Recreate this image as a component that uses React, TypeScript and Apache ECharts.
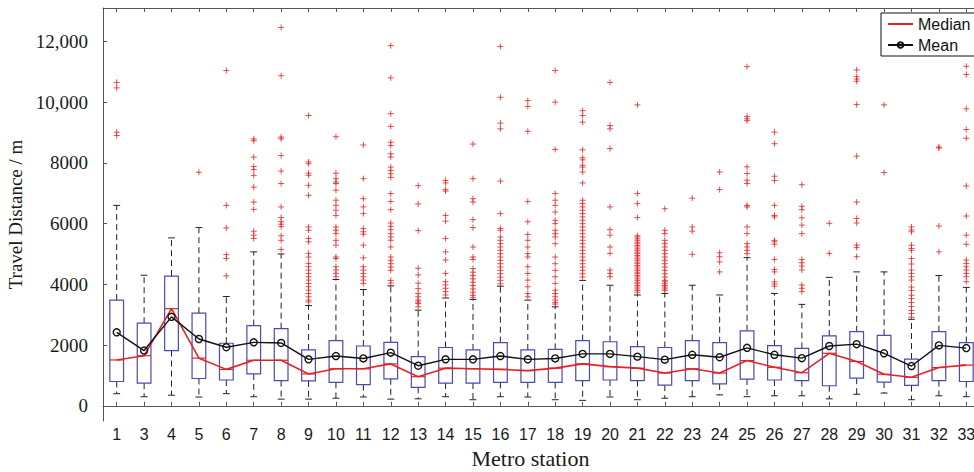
import React, { useEffect, useRef } from "react";
import * as echarts from "echarts";

const stations = ["1","3","4","5","6","7","8","9","10","11","12","13","14","15","16","17","18","19","20","21","22","23","24","25","26","27","28","29","30","31","32","33"];

const lowerWhisker = [400,300,350,290,400,300,220,220,250,290,220,230,300,200,300,290,200,180,290,200,250,300,360,300,330,330,230,380,420,200,330,300];
const q1 = [800,745,1820,900,850,1050,830,820,770,700,890,610,750,750,770,770,770,830,850,830,680,830,720,880,850,830,660,910,780,670,830,800];
const medians = [1510,1650,3200,1570,1200,1500,1500,1050,1220,1220,1380,960,1240,1220,1200,1160,1240,1380,1290,1240,1080,1220,1080,1490,1270,1090,1730,1460,1040,940,1260,1340];
const q3 = [3480,2720,4270,3050,2060,2640,2540,1840,2150,1970,2090,1620,1920,1840,2080,1840,1860,2150,2110,1950,1920,2150,2080,2470,1980,1890,2300,2440,2320,1540,2440,2080];
const upperWhisker = [6600,4300,5530,5870,3600,5070,5000,3300,4160,3830,3950,3150,3550,3500,3940,3480,3260,4130,3970,3650,3700,3970,3650,4880,3700,3340,4230,4410,4410,2850,4290,3900];
const means = [2420,1820,2930,2200,1930,2090,2070,1530,1640,1560,1750,1320,1530,1530,1640,1530,1560,1710,1710,1620,1520,1680,1600,1910,1680,1570,1970,2030,1730,1310,1990,1900];

const outliers: number[][] = [
  [10650,10470,9010,8900],
  [],
  [],
  [7690],
  [11040,6600,5860,4980,4850,4280],
  [8790,8730,8190,7880,7780,7590,7200,6710,6470,5750,5620,5510],
  [12460,10870,8850,8790,8240,7730,7320,6550,6200,6060,5980,5900,5600,5450,5150],
  [9560,8030,7970,7660,7590,7260,6930,5890,5780,5510,5400,5020,4900,4690,4580,4470,4360,4250,4140,4030,3920,3810,3700,3590,3480,3420],
  [8860,7660,7480,7370,7320,7100,6770,6600,6440,6270,5890,5780,5670,5450,5290,4900,4850,4580,4470,4360,4250],
  [8590,7480,6820,6550,6330,5840,5730,5650,5290,4870,4580,4470,4360,4250,4140,4030],
  [11860,10800,9620,9200,8680,8570,8300,8190,7860,7750,7640,7520,6990,6730,6460,6020,5910,5800,5670,5560,5450,5230,4900,4790,4680,4570,4460,4130,4040],
  [7250,6650,5770,4530,4310,4040,3860,3700,3590,3480,3420,3370,3260],
  [7420,7340,7120,7070,6270,6080,5510,5070,4800,4360,4090,3980,3870,3760,3650],
  [8620,7480,6820,6710,6130,5870,5230,4900,4820,4520,4400,4290,4180,4070,3960,3850,3740,3640,3560],
  [11830,10160,9310,9120,7400,6330,5840,5780,5560,5450,5340,5230,5120,5010,4900,4790,4680,4570,4460,4350,4240,4130,4020],
  [10050,9860,9040,6730,6060,5640,5450,5230,5010,4900,4580,4360,4140,3920,3700,3590],
  [11040,10000,8440,6990,6770,6600,6380,6110,6000,5780,5670,5560,5340,4900,4680,4460,4250,4030,3810,3700,3590,3480,3400,3350],
  [9720,9560,9340,8430,8170,8100,7920,7860,7700,7340,6770,6660,6550,6440,6330,6220,6110,6000,5890,5780,5670,5560,5450,5340,5230,5120,5010,4900,4790,4680,4570,4460,4350,4240],
  [10650,9230,9120,8470,6550,5800,5620,5230,5020,4470,4360,4250],
  [9910,6990,6660,6200,5600,5560,5500,5450,5390,5340,5280,5230,5170,5120,5060,5010,4950,4900,4840,4790,4730,4680,4620,4570,4510,4460,4400,4350,4290,4240,4180,4130,4070,4020,3960,3910,3850,3800,3740],
  [6490,5780,5670,5450,5340,5230,5120,5010,4900,4790,4680,4570,4460,4350,4240,4130,4080,4020,3960,3910,3850,3800],
  [6840,5890,5750,4990],
  [7700,7120,5040,4910,4740,4410],
  [11170,9530,9450,9390,7870,7650,7430,7320,6600,6550,5890,5670,5340,5230,5120,5010],
  [9010,8630,7560,7420,6600,6270,6220,5450,5400,5320,4820,4490,4410,4080,4010,3940],
  [7280,6570,6460,6190,5950,5670,4820,4710,4600,4470,3980,3870,3760],
  [6010,5020],
  [11060,10840,10760,10690,9920,8220,6710,6170,6020,5290,5210,4910],
  [9910,7680],
  [5890,5790,5730,5290,5180,5120,4850,4670,4470,4360,4250,4140,3910,3800,3640,3530,3400,3270,3140,3040,2920],
  [8520,8490,5920,5070],
  [11180,10910,9780,9100,8810,7240,6250,5620,5320,4800,4690,4580,4470,4360,4250,4090],
];

const yTicks = [0, 2000, 4000, 6000, 8000, 10000, 12000];

const SERIF = '"Liberation Serif", "Times New Roman", serif';
const SANS = '"Liberation Sans", Arial, sans-serif';

export default function App() {
  const ref = useRef<HTMLDivElement>(null);
  useEffect(() => {
    if (!ref.current) return;
    const chart = echarts.init(ref.current, null, { renderer: "svg" });
    const boxData = stations.map((_, i) => [i, lowerWhisker[i], q1[i], medians[i], q3[i], upperWhisker[i]]);
    const outlierData: number[][] = [];
    outliers.forEach((arr, i) => arr.forEach((v) => outlierData.push([i, v])));

    const axisColor = "#555";
    chart.setOption({
      animation: false,
      backgroundColor: "#fff",
      grid: { left: 103, top: 8, width: 877, height: 413, show: false, outerBoundsMode: "none" },
      legend: {
        data: [
          { name: "Median", itemStyle: { opacity: 0 } },
          { name: "Mean" },
        ],
        orient: "vertical",
        left: 881,
        top: 13,
        z: 20,
        backgroundColor: "#fff",
        borderColor: "#111",
        borderWidth: 1,
        borderRadius: 0,
        padding: [3, 12, 3, 6],
        itemGap: 5,
        itemWidth: 25,
        itemHeight: 7,
        textStyle: { fontFamily: SANS, fontSize: 16, color: "#111" },
      },
      xAxis: [
        {
          type: "category",
          data: stations,
          position: "bottom",
          boundaryGap: true,
          axisLine: { show: true, lineStyle: { color: axisColor, width: 1 } },
          axisTick: { show: true, inside: true, alignWithLabel: true, length: 4, lineStyle: { color: axisColor } },
          axisLabel: { interval: 0, margin: 5, fontFamily: SANS, fontSize: 16, color: "#1a1a1a" },
          splitLine: { show: false },
          name: "Metro station",
          nameLocation: "middle",
          nameGap: 26,
          nameTextStyle: { fontFamily: SERIF, fontSize: 22, color: "#1a1a1a", padding: [0, 22, 0, 0] },
        },
        {
          type: "category",
          data: stations,
          position: "top",
          boundaryGap: true,
          axisLine: { show: true, lineStyle: { color: axisColor, width: 1 } },
          axisTick: { show: true, inside: true, alignWithLabel: true, length: 4, lineStyle: { color: axisColor } },
          axisLabel: { show: false },
          splitLine: { show: false },
        },
      ],
      yAxis: {
        type: "value",
        min: -500,
        max: 13100,
        axisLine: { show: true, lineStyle: { color: axisColor, width: 1 } },
        axisTick: { show: true, inside: true, length: 4, customValues: yTicks, lineStyle: { color: axisColor } },
        axisLabel: {
          customValues: yTicks,
          margin: 15,
          fontFamily: SERIF,
          fontSize: 19,
          color: "#1a1a1a",
          formatter: (v: number) => (v >= 10000 ? v.toLocaleString("en-US") : String(v)),
        },
        splitLine: { show: false },
        name: "Travel Distance / m",
        nameLocation: "middle",
        nameRotate: 90,
        nameGap: 74,
        nameTextStyle: { fontFamily: SERIF, fontSize: 19, color: "#1a1a1a", padding: [0, 0, 0, 0] },
      },
      series: [
        {
          type: "scatter",
          name: "Outliers",
          data: outlierData,
          symbol: "path://M0,5L10,5M5,0L5,10",
          symbolSize: 6,
          itemStyle: { color: "rgba(0,0,0,0)", borderColor: "#e52222", borderWidth: 1 },
          z: 2,
        },
        {
          type: "custom",
          name: "Boxes",
          data: boxData,
          encode: { x: 0, y: [1, 2, 3, 4, 5] },
          z: 3,
          renderItem: (params: any, api: any) => {
            const x = api.value(0);
            const low = api.coord([x, api.value(1)]);
            const b = api.coord([x, api.value(2)]);
            const m = api.coord([x, api.value(3)]);
            const t = api.coord([x, api.value(4)]);
            const high = api.coord([x, api.value(5)]);
            const band = api.size([1, 0])[0];
            const bw = band * 0.5;
            const cw = band * 0.25;
            const cx = b[0];
            const dash = { stroke: "#222", lineWidth: 1, lineDash: [6, 4] };
            const solid = { stroke: "#222", lineWidth: 1 };
            return {
              type: "group",
              children: [
                { type: "line", shape: { x1: cx, y1: t[1], x2: cx, y2: high[1] }, style: dash },
                { type: "line", shape: { x1: cx, y1: b[1], x2: cx, y2: low[1] }, style: dash },
                { type: "line", shape: { x1: cx - cw / 2, y1: high[1], x2: cx + cw / 2, y2: high[1] }, style: solid },
                { type: "line", shape: { x1: cx - cw / 2, y1: low[1], x2: cx + cw / 2, y2: low[1] }, style: solid },
                { type: "rect", shape: { x: cx - bw / 2, y: t[1], width: bw, height: b[1] - t[1] }, style: { fill: "none", stroke: "#4a4ab4", lineWidth: 1.2 } },
                { type: "line", shape: { x1: cx - bw / 2, y1: m[1], x2: cx + bw / 2, y2: m[1] }, style: { stroke: "#e52222", lineWidth: 1.2 } },
              ],
            };
          },
        },
        {
          type: "line",
          name: "Median",
          data: medians,
          symbol: "none",
          lineStyle: { color: "#e52222", width: 1.6 },
          itemStyle: { color: "#e52222" },
          z: 4,
        },
        {
          type: "line",
          name: "Mean",
          data: means,
          symbol: "circle",
          symbolSize: 7,
          showSymbol: true,
          lineStyle: { color: "#111", width: 1.4 },
          itemStyle: { color: "rgba(255,255,255,0)", borderColor: "#111", borderWidth: 1.4 },
          z: 5,
        },
      ],
    });
    return () => chart.dispose();
  }, []);

  return (
    <div style={{ position: "fixed", left: 0, top: 0, width: 974, height: 472, overflow: "hidden", background: "#fff" }}>
      <div ref={ref} style={{ width: 1000, height: 472 }} />
    </div>
  );
}
